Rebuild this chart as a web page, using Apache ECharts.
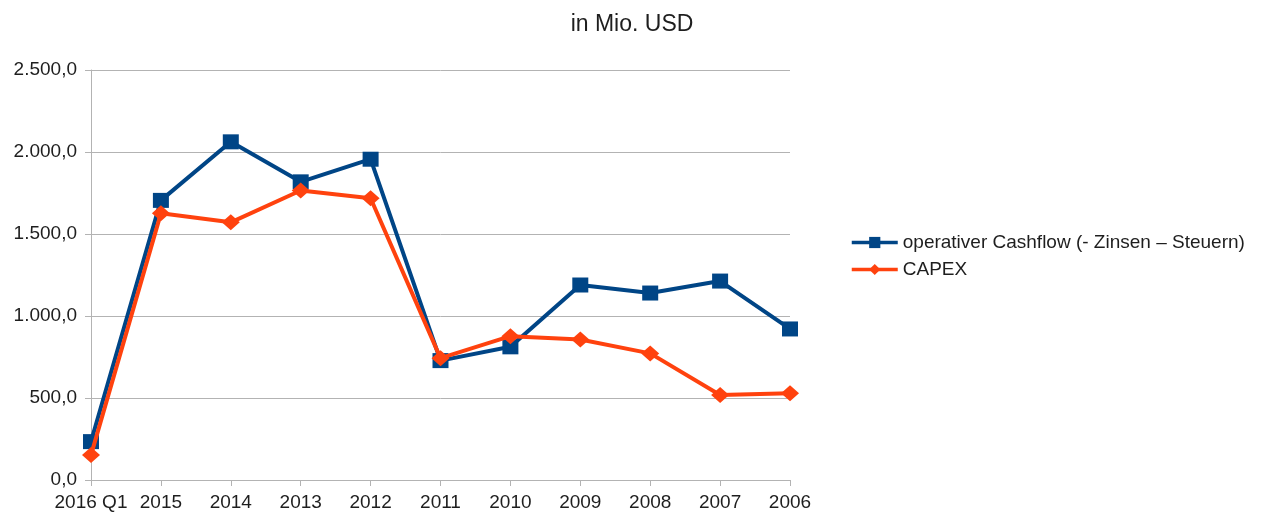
<!DOCTYPE html>
<html>
<head>
<meta charset="utf-8">
<script src="https://cdn.jsdelivr.net/npm/echarts@6/dist/echarts.min.js"></script>
<style>
  html, body { margin: 0; padding: 0; background: #fff; }
  #chart { width: 1263px; height: 517px; }
</style>
</head>
<body>
<div id="chart"></div>
<script>
// Periods, newest first
const categories = ['2016 Q1', '2015', '2014', '2013', '2012', '2011', '2010', '2009', '2008', '2007', '2006'];
// Operating cash flow after interest and taxes, in million USD
const cashflow = [234, 1705, 2062, 1818, 1956, 728, 812, 1189, 1140, 1213, 921];
// Capital expenditure, in million USD
const capex = [152, 1626, 1571, 1765, 1718, 743, 877, 857, 772, 518, 529];

const seriesNames = ['operativer Cashflow (- Zinsen – Steuern)', 'CAPEX'];
const fontFamily = '"Liberation Sans", Arial, sans-serif';

// German number format: 2.500,0
function deFormat(v) {
  const parts = Number(v).toFixed(1).split('.');
  parts[0] = parts[0].replace(/\B(?=(\d{3})+(?!\d))/g, '.');
  return parts.join(',');
}

const chart = echarts.init(document.getElementById('chart'), null, { renderer: 'canvas' });
chart.setOption({
  animation: false,
  backgroundColor: '#ffffff',
  title: {
    text: 'in Mio. USD',
    left: 627,
    textAlign: 'center',
    top: 8,
    textStyle: { fontFamily, fontSize: 23, fontWeight: 'normal', color: '#1e1e1e' }
  },
  legend: {
    orient: 'vertical',
    left: 845,
    top: 228,
    itemWidth: 46,
    itemHeight: 14,
    itemGap: 8,
    lineStyle: { width: 3.5 },
    textStyle: { fontFamily, fontSize: 19, color: '#1e1e1e' },
    data: seriesNames
  },
  grid: { left: 91, right: 473, top: 70, bottom: 37, containLabel: false },
  xAxis: {
    type: 'category',
    boundaryGap: false,
    data: categories,
    axisLine: { lineStyle: { color: '#b3b3b3', width: 1 } },
    axisTick: { show: true, length: 6, lineStyle: { color: '#b3b3b3' } },
    axisLabel: { fontFamily, fontSize: 19, color: '#1e1e1e', margin: 13, interval: 0 },
    splitLine: { show: false }
  },
  yAxis: {
    type: 'value',
    min: 0,
    max: 2500,
    interval: 500,
    axisLine: { show: true, lineStyle: { color: '#b3b3b3', width: 1 } },
    axisTick: { show: true, length: 6, lineStyle: { color: '#b3b3b3' } },
    axisLabel: { fontFamily, fontSize: 19, color: '#1e1e1e', margin: 14, formatter: deFormat },
    splitLine: { show: true, lineStyle: { color: '#b3b3b3', width: 1 } }
  },
  series: [
    {
      name: seriesNames[0],
      type: 'line',
      data: cashflow,
      symbol: 'rect',
      symbolSize: [16, 15],
      showAllSymbol: true,
      itemStyle: { color: '#004586' },
      lineStyle: { color: '#004586', width: 4 },
      z: 2
    },
    {
      name: seriesNames[1],
      type: 'line',
      data: capex,
      symbol: 'diamond',
      symbolSize: [18, 16],
      showAllSymbol: true,
      itemStyle: { color: '#ff420e' },
      lineStyle: { color: '#ff420e', width: 4 },
      z: 3
    }
  ]
});
</script>
</body>
</html>
